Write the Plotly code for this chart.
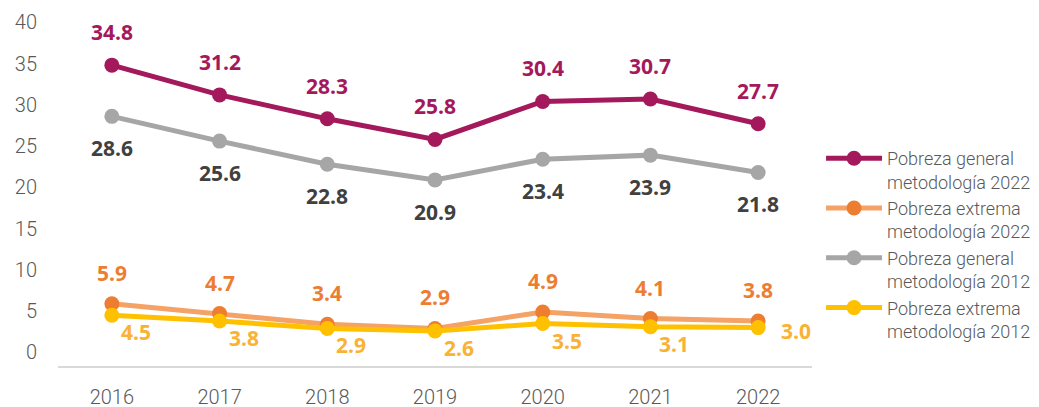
import plotly.graph_objects as go

years = ["2016", "2017", "2018", "2019", "2020", "2021", "2022"]
general_2022 = [34.8, 31.2, 28.3, 25.8, 30.4, 30.7, 27.7]
extrema_2022 = [5.9, 4.7, 3.4, 2.9, 4.9, 4.1, 3.8]
general_2012 = [28.6, 25.6, 22.8, 20.9, 23.4, 23.9, 21.8]
extrema_2012 = [4.5, 3.8, 2.9, 2.6, 3.5, 3.1, 3.0]
y_ticks = [0, 5, 10, 15, 20, 25, 30, 35, 40]

names = ["Pobreza general<br>metodología 2022",
         "Pobreza extrema<br>metodología 2022",
         "Pobreza general<br>metodología 2012",
         "Pobreza extrema<br>metodología 2012"]

series = [
    (general_2022, "#A3195B", "#A3195B"),
    (extrema_2022, "#F4A266", "#ED7D31"),
    (general_2012, "#A6A6A6", "#A6A6A6"),
    (extrema_2012, "#FFC000", "#FFC000"),
]

fig = go.Figure()
for (vals, lc, mc), name in zip(series, names):
    fig.add_trace(go.Scatter(
        x=years, y=vals, name=name, mode="lines+markers",
        line=dict(color=lc, width=5),
        marker=dict(color=mc, size=15),
        hoverinfo="skip",
    ))

annotations = []
def add_labels(vals, color, xs, ys, last=None):
    for i, v in enumerate(vals):
        dx, dy = xs, ys
        if last is not None and i == len(vals) - 1:
            dx, dy = last
        annotations.append(dict(
            x=i, y=v, xref="x", yref="y", text=f"<b>{v:.1f}</b>", showarrow=False,
            xshift=dx, yshift=dy,
            font=dict(family="Open Sans", size=21, color=color),
        ))

add_labels(general_2022, "#A3195B", 0, 33)
add_labels(general_2012, "#404040", 0, -32)
add_labels(extrema_2022, "#ED7D31", 0, 31)
add_labels(extrema_2012, "#F9B233", 24, -17, last=(38, -3))

fig.update_layout(
    width=1039, height=407,
    margin=dict(l=50, r=235, t=6, b=49),
    paper_bgcolor="white", plot_bgcolor="white",
    font=dict(family="Roboto", color="#595959"),
    showlegend=True,
    legend=dict(
        x=1.012, y=0.642, xanchor="left", yanchor="top",
        font=dict(family="Roboto", size=18, color="#595959", weight=300),
        valign="top", itemwidth=56, tracegroupgap=0,
        bgcolor="rgba(0,0,0,0)",
    ),
    annotations=annotations,
)
fig.update_xaxes(
    type="category", range=[-0.5, 6.5], automargin=False,
    showline=True, linecolor="#D9D9D9", linewidth=2,
    showgrid=False, zeroline=False, ticks="",
    tickfont=dict(family="Roboto", size=20, color="#595959", weight=300),
    ticklabelstandoff=12,
)
fig.update_yaxes(
    range=[-1.65, 41], tickvals=y_ticks, automargin=False,
    showline=False, showgrid=False, zeroline=False, ticks="",
    tickfont=dict(family="Roboto", size=20, color="#595959", weight=300),
    ticklabelstandoff=20,
)

fig.write_html("out.html")
